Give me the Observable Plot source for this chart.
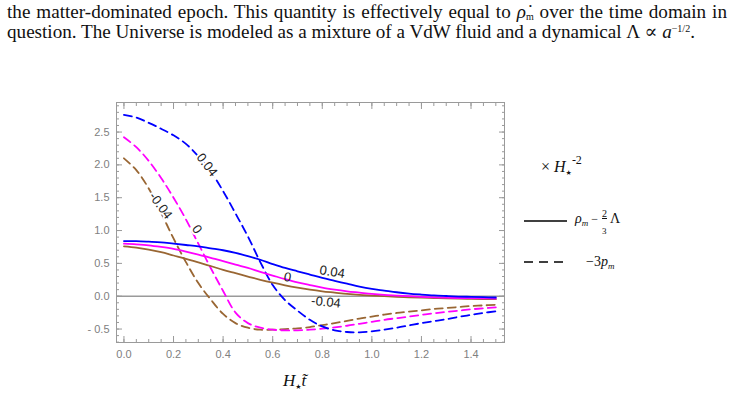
<!DOCTYPE html>
<html><head><meta charset="utf-8">
<script src="https://cdn.jsdelivr.net/npm/d3@7"></script>
<script src="https://cdn.jsdelivr.net/npm/@observablehq/plot@0.6"></script>
<style>
html,body{margin:0;padding:0;background:#fff;}
body{width:733px;height:418px;position:relative;overflow:hidden;font-family:"Liberation Serif","DejaVu Serif",serif;color:#111;}
.capl{position:absolute;left:7px;font-size:15.5px;line-height:20px;white-space:nowrap;}
.capl sub{font-size:10px;vertical-align:-2px;line-height:0;}
.capl sup{font-size:10px;vertical-align:6px;line-height:0;}
#chart{position:absolute;left:0;top:90px;}
.lg{position:absolute;font-family:"Liberation Serif",serif;white-space:nowrap;}
.lg sub,.lg sup{line-height:0;}
.star{font-family:"DejaVu Sans",sans-serif;font-style:normal;}
#xlab{position:absolute;left:283px;top:371px;font-size:17px;font-style:italic;font-family:"Liberation Serif",serif;white-space:nowrap;}
</style>
</head><body>
<div class="capl" id="cap1" style="top:2px;">the matter-dominated epoch. This quantity is effectively equal to <i>ρ̇</i><sub>m</sub> over the time domain in</div>
<div class="capl" id="cap2" style="top:22px;">question. The Universe is modeled as a mixture of a VdW fluid and a dynamical Λ ∝ <i>a</i><sup>−1/2</sup>.</div>
<div id="chart"></div>
<div class="lg" style="left:541px;top:158px;font-size:16px;">× <i>H</i><sub class="star" style="font-size:7px;vertical-align:-3px;">★</sub><sup style="font-size:12px;vertical-align:8px;">-2</sup></div>
<svg class="lg" style="left:520px;top:210px;" width="60" height="60">
<line x1="4" y1="11" x2="47" y2="11" stroke="#000" stroke-width="1.5"/>
<line x1="4" y1="52" x2="47" y2="52" stroke="#000" stroke-width="1.5" stroke-dasharray="9,6"/>
</svg>
<div class="lg" style="left:575px;top:211px;font-size:14px;"><i>ρ</i><sub style="font-size:9px;vertical-align:-3px;"><i>m</i></sub><span style="font-size:12px;margin-left:3px;">−</span><span style="display:inline-block;position:relative;width:9px;height:10px;margin-left:3px;"><span style="position:absolute;left:1px;top:-5px;font-size:10px;text-decoration:underline;">2</span><span style="position:absolute;left:1px;top:13px;font-size:9px;">3</span></span>Λ</div>
<div class="lg" style="left:586px;top:254px;font-size:14px;">−3<i>p</i><sub style="font-size:9px;vertical-align:-3px;"><i>m</i></sub></div>
<div id="xlab">H<sub class="star" style="font-size:7px;vertical-align:-3px;">★</sub>t̃</div>
<script>
// ---- data ----
const xGrid = [0,0.05,0.1,0.15,0.2,0.25,0.3,0.35,0.4,0.45,0.5,0.55,0.6,0.65,0.7,0.75,0.8,0.85,0.9,0.95,1.0,1.05,1.1,1.15,1.2,1.25,1.3,1.35,1.4,1.45,1.5];
// solid: rho_m - 2/3 Lambda
const solidBlue    = [0.84,0.838,0.83,0.82,0.80,0.78,0.76,0.73,0.70,0.66,0.61,0.555,0.49,0.43,0.38,0.33,0.28,0.235,0.19,0.145,0.11,0.085,0.06,0.04,0.025,0.012,0.003,-0.005,-0.01,-0.015,-0.02];
const solidMagenta = [0.80,0.79,0.775,0.75,0.72,0.68,0.635,0.585,0.535,0.48,0.43,0.37,0.315,0.26,0.21,0.17,0.13,0.10,0.075,0.055,0.035,0.02,0.01,0.0,-0.01,-0.017,-0.022,-0.027,-0.03,-0.033,-0.035];
const solidBrown   = [0.76,0.74,0.71,0.67,0.62,0.57,0.515,0.46,0.40,0.35,0.30,0.25,0.205,0.165,0.13,0.10,0.075,0.055,0.035,0.02,0.01,0.0,-0.01,-0.017,-0.023,-0.028,-0.033,-0.037,-0.04,-0.043,-0.045];
// dashed: -3 p_m
const dashBlue     = [2.76,2.72,2.64,2.55,2.45,2.32,2.13,1.90,1.60,1.26,0.91,0.52,0.17,-0.06,-0.22,-0.36,-0.46,-0.52,-0.545,-0.55,-0.535,-0.51,-0.48,-0.445,-0.41,-0.38,-0.35,-0.315,-0.285,-0.255,-0.23];
const dashMagenta  = [2.42,2.27,2.06,1.80,1.50,1.17,0.80,0.43,0.08,-0.25,-0.41,-0.48,-0.51,-0.52,-0.52,-0.51,-0.495,-0.475,-0.45,-0.42,-0.39,-0.36,-0.335,-0.31,-0.285,-0.26,-0.24,-0.22,-0.2,-0.185,-0.17];
const dashBrown    = [2.10,1.92,1.64,1.27,0.88,0.52,0.20,-0.05,-0.27,-0.41,-0.48,-0.51,-0.51,-0.50,-0.49,-0.47,-0.44,-0.41,-0.375,-0.34,-0.31,-0.28,-0.255,-0.235,-0.215,-0.195,-0.18,-0.165,-0.15,-0.14,-0.13];
const seriesColors = {blue:"#0000ff", magenta:"#ff00ff", brown:"#996633"};
// contour-style labels
const labelText = ["0.04","0","-0.04","0.04","0","-0.04"];
const labelX    = [0.335,0.295,0.148,0.84,0.66,0.815];
const labelY    = [2.0,1.02,1.38,0.37,0.29,-0.09];
const labelRot  = [52,55,53,9,10,6];
const labelOnDash = [true,true,true,false,false,false];
// axes
const xTicks = [0,0.2,0.4,0.6,0.8,1.0,1.2,1.4];
const xTickLabels = ["0.0","0.2","0.4","0.6","0.8","1.0","1.2","1.4"];
const xMinor = [0,0.05,0.1,0.15,0.2,0.25,0.3,0.35,0.4,0.45,0.5,0.55,0.6,0.65,0.7,0.75,0.8,0.85,0.9,0.95,1.0,1.05,1.1,1.15,1.2,1.25,1.3,1.35,1.4,1.45,1.5];
const yTicks = [-0.5,0,0.5,1.0,1.5,2.0,2.5];
const yTickLabels = ["- 0.5","0.0","0.5","1.0","1.5","2.0","2.5"];
const yMinor = [-0.7,-0.6,-0.5,-0.4,-0.3,-0.2,-0.1,0,0.1,0.2,0.3,0.4,0.5,0.6,0.7,0.8,0.9,1.0,1.1,1.2,1.3,1.4,1.5,1.6,1.7,1.8,1.9,2.0,2.1,2.2,2.3,2.4,2.5,2.6,2.7,2.8,2.9];
const zeroLine = [0];

// fit caption lines: font size from line 2's width, line 1 justified by word spacing
(function fitCaption(){
  const c1 = document.getElementById("cap1"), c2 = document.getElementById("cap2");
  const base = 15.5;
  const w2 = c2.getBoundingClientRect().width;
  const fs = base * 693 / w2;
  c1.style.fontSize = c2.style.fontSize = fs + "px";
  const w1 = c1.getBoundingClientRect().width;
  const spaces = (c1.textContent.trim().match(/ /g) || []).length;
  c1.style.wordSpacing = ((720 - w1) / spaces) + "px";
})();

const toRows = arr => xGrid.map((x,i)=>({x, y: arr[i]}));
const xLab = new Map(xTicks.map((v,i)=>[v,xTickLabels[i]]));
const yLab = new Map(yTicks.map((v,i)=>[v,yTickLabels[i]]));
const labels = labelText.map((t,i)=>({t, x:labelX[i], y:labelY[i], r:labelRot[i], d:labelOnDash[i]}));
const gray = "#9a9a9a";
const lineW = 1.8, dash = "8,5";
const crv = "catmull-rom";

const tickAxes = [];
for (const [ticks,size] of [[xMinor,-3],[xTicks,-6]]) {
  tickAxes.push(Plot.axisX(ticks,{anchor:"bottom",tickSize:size,tickFormat:()=>"",stroke:gray,label:null}));
  tickAxes.push(Plot.axisX(ticks,{anchor:"top",tickSize:size,tickFormat:()=>"",stroke:gray,label:null}));
}
for (const [ticks,size] of [[yMinor,-3],[yTicks,-6]]) {
  tickAxes.push(Plot.axisY(ticks,{anchor:"left",tickSize:size,tickFormat:()=>"",stroke:gray,label:null}));
  tickAxes.push(Plot.axisY(ticks,{anchor:"right",tickSize:size,tickFormat:()=>"",stroke:gray,label:null}));
}

const chart = Plot.plot({
  width: 520, height: 280,
  marginLeft: 116, marginRight: 16, marginTop: 12, marginBottom: 28,
  style: {fontFamily: "'Liberation Sans', Arial, sans-serif", background: "transparent"},
  x: {domain: [-0.03, 1.535], axis: null},
  y: {domain: [-0.705, 2.95], axis: null},
  marks: [
    Plot.ruleY(zeroLine, {stroke: gray, strokeWidth: 1.5}),
    Plot.line(toRows(dashBrown),   {x:"x", y:"y", stroke: seriesColors.brown,   strokeWidth: lineW, strokeDasharray: dash, curve: crv}),
    Plot.line(toRows(dashMagenta), {x:"x", y:"y", stroke: seriesColors.magenta, strokeWidth: lineW, strokeDasharray: dash, curve: crv}),
    Plot.line(toRows(dashBlue),    {x:"x", y:"y", stroke: seriesColors.blue,    strokeWidth: lineW, strokeDasharray: dash, curve: crv}),
    Plot.line(toRows(solidBrown),  {x:"x", y:"y", stroke: seriesColors.brown,   strokeWidth: lineW, curve: crv}),
    Plot.line(toRows(solidMagenta),{x:"x", y:"y", stroke: seriesColors.magenta, strokeWidth: lineW, curve: crv}),
    Plot.line(toRows(solidBlue),   {x:"x", y:"y", stroke: seriesColors.blue,    strokeWidth: lineW, curve: crv}),
    Plot.text(labels.filter(d=>d.d), {x:"x", y:"y", text:"t", rotate:"r", fill:"#222", stroke:"white", strokeWidth:4, fontSize:13}),
    Plot.text(labels.filter(d=>!d.d), {x:"x", y:"y", text:"t", rotate:"r", fill:"#222", fontSize:13}),
    Plot.frame({stroke: gray}),
    ...tickAxes,
    Plot.axisX(xTicks, {anchor:"bottom", tickSize:0, tickPadding:8, tickFormat: d=>xLab.get(d), color:"#808080", fontSize:11, label:null}),
    Plot.axisY(yTicks, {anchor:"left", tickSize:0, tickPadding:7, tickFormat: d=>yLab.get(d), color:"#808080", fontSize:11, label:null})
  ]
});
document.getElementById("chart").appendChild(chart);
</script>
</body></html>
